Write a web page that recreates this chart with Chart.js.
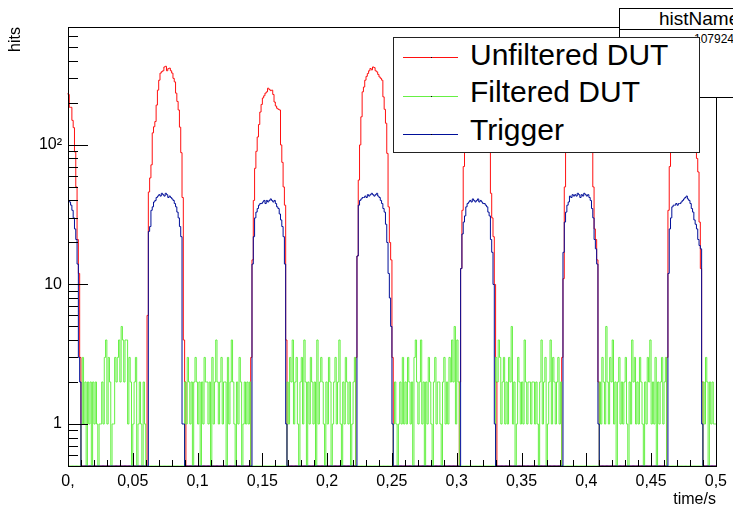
<!DOCTYPE html>
<html>
<head>
<meta charset="utf-8">
<script src="https://cdn.jsdelivr.net/npm/chart.js@4.4.1/dist/chart.umd.min.js"></script>
<style>
  body { margin: 0; background: #fff; }
  #wrap { position: relative; width: 733px; height: 505px; overflow: hidden; font-family: "Liberation Sans", Arial, sans-serif; }
  #stats { position: absolute; left: 619px; top: 8px; width: 150px; height: 88px; border: 1px solid #000; background: #fff; }
  #stats .title { position: absolute; left: 0; top: 0; width: 100%; height: 20px; border-bottom: 1px solid #000; }
  #stats .title span { position: absolute; left: 39px; top: 0px; font-size: 19px; line-height: 19px; }
  #stats .line { position: absolute; left: 74px; top: 24px; font-size: 12px; line-height: 12px; }
  #legend { position: absolute; left: 393px; top: 37px; width: 305px; height: 114px; border: 1px solid #222; background: #fff; }
  #legend .sample { position: absolute; left: 9px; width: 55px; height: 1px; }
  #legend .dot { position: absolute; left: 28px; top: 0; width: 1px; height: 1px; background: #000; }
  #legend .label { position: absolute; left: 76px; font-size: 30px; line-height: 30px; white-space: nowrap; }
</style>
</head>
<body>
<div id="wrap">
  <canvas id="myChart" width="733" height="505"></canvas>
  <div id="stats">
    <div class="title"><span>histName</span></div>
    <div class="line">107924</div>
  </div>
  <div id="legend"></div>
</div>
<script>
// bin width of the histograms in seconds, 500 bins from 0 to 0.5
const binWidth = 0.001;
// bottom of the log axis, empty bins are drawn there like ROOT does
const yMin = 0.5;
const yMax = 700;

const xTickValues = [0, 0.05, 0.1, 0.15, 0.2, 0.25, 0.3, 0.35, 0.4, 0.45, 0.5];
const xTickLabels = ["0,", "0,05", "0,1", "0,15", "0,2", "0,25", "0,3", "0,35", "0,4", "0,45", "0,5"];
const yTickValues = [1, 10, 100];
const yTickLabels = ["1", "10", "10\u00b2"];

const seriesNames = ["Unfiltered DUT", "Filtered DUT", "Trigger"];
const seriesColors = ["#ff1010", "#66f044", "#000f99"];

// hits per bin, 20 bins per row
const unfiltered = [
  235,230,186,186,150,133,89,50,21,12, 3,0,0,0,0,0,0,0,0,0,
  0,0,0,0,0,0,0,0,0,0, 0,0,0,0,0,0,0,0,0,0,
  0,0,0,0,0,0,0,0,0,0, 0,0,0,0,0,0,0,0,0,0,
  0,0,6,46,58,72,122,135,147,193, 247,291,327,335,340,362,366,340,352,355,
  340,327,300,283,235,205,178,134,88,42, 4,2,0,0,0,0,0,0,0,0,
  0,0,0,0,0,0,0,0,0,0, 0,0,0,0,0,0,0,0,0,0,
  0,0,0,0,0,0,0,0,0,0, 0,0,0,0,0,0,0,0,0,0,
  0,0,3,15,40,68,90,114,140,172, 195,217,225,235,240,255,250,245,247,230,
  203,190,183,180,178,100,75,50,37,4, 0,0,0,0,0,0,0,0,0,0,
  0,0,0,0,0,0,0,0,0,0, 0,0,0,0,0,0,0,0,0,0,
  0,0,0,0,0,0,0,0,0,0, 0,0,0,0,0,0,0,0,0,0,
  0,0,0,3,16,56,100,159,240,260, 291,310,325,340,353,345,362,358,340,334,
  320,307,300,291,221,180,143,87,36,20, 15,3,0,0,0,0,0,0,0,0,
  0,0,0,0,0,0,0,0,0,0, 0,0,0,0,0,0,0,0,0,0,
  0,0,0,0,0,0,0,0,0,0, 0,0,0,0,0,0,0,0,0,0,
  0,0,0,2,13,34,70,110,160,210, 250,280,300,310,325,320,330,318,325,310,
  300,290,270,240,200,150,100,45,30,22, 10,2,0,0,0,0,0,0,0,0,
  0,0,0,0,0,0,0,0,0,0, 0,0,0,0,0,0,0,0,0,0,
  0,0,0,0,0,0,0,0,0,0, 0,0,0,0,0,0,0,0,0,0,
  0,0,3,11,50,95,140,190,230,260, 285,300,310,305,315,300,310,295,290,280,
  270,250,215,180,140,95,50,25,21,15, 2,0,0,0,0,0,0,0,0,0,
  0,0,0,0,0,0,0,0,0,0, 0,0,0,0,0,0,0,0,0,0,
  0,0,0,0,0,0,0,0,0,0, 0,0,0,0,0,0,0,0,0,0,
  0,0,0,3,34,70,110,150,190,220, 250,270,285,290,300,295,305,290,280,270,
  255,230,200,170,130,100,80,64,28,13, 2,0,0,0,0,0,0,0,0,0
];

const filtered = [
  0,0,0,0,0,0,0,0,0,0, 0,1,3,1,2,0,2,1,2,0,
  2,1,2,1,0,1,1,2,1,3, 4,1,3,2,0,1,1,3,2,3,
  4,2,5,4,2,4,4,1,3,2, 0,1,2,3,0,1,2,1,0,2,
  1,0,0,0,0,0,0,0,0,0, 0,0,0,0,0,0,0,0,0,0,
  0,0,0,0,0,0,0,0,0,0, 0,2,1,3,2,1,2,0,2,3,
  2,1,2,0,2,1,3,2,2,1, 2,0,3,1,2,4,2,1,2,3,
  1,2,2,0,3,1,2,4,2,1, 0,2,1,3,2,0,1,2,1,2,
  1,2,0,0,0,0,0,0,0,0, 0,0,0,0,0,0,0,0,0,0,
  0,0,0,0,0,0,0,0,0,0, 2,1,3,2,4,1,2,3,1,0,
  2,3,1,4,2,0,2,1,3,2, 1,2,0,4,1,2,3,2,1,0,
  2,1,3,2,0,1,2,3,1,2, 4,1,0,2,1,3,2,1,2,0,
  1,2,3,0,0,0,0,0,0,0, 0,0,0,0,0,0,0,0,0,0,
  0,0,0,0,0,0,0,0,0,0, 0,0,1,2,1,0,1,2,1,3,
  1,2,1,3,2,1,2,0,3,4, 2,1,2,4,1,2,0,2,1,3,
  2,1,0,2,3,1,2,2,1,0, 2,3,1,2,1,3,2,4,2,5,
  1,4,2,0,0,0,0,0,0,0, 0,0,0,0,0,0,0,0,0,0,
  0,0,0,0,0,0,0,0,0,0, 0,3,2,4,3,1,2,3,1,2,
  1,3,2,5,1,2,0,1,3,2, 1,2,1,4,2,1,2,2,1,2,
  2,1,2,1,0,2,4,1,2,3, 0,1,2,4,1,3,2,1,2,3,
  1,2,0,0,0,0,0,0,0,0, 0,0,0,0,0,0,0,0,0,0,
  0,0,0,0,0,0,0,0,0,0, 0,2,1,3,2,1,5,2,1,3,
  2,4,1,2,0,2,3,1,2,1, 2,3,1,0,2,1,4,2,3,1,
  2,1,3,2,1,0,2,1,3,2, 4,1,2,1,3,0,2,1,2,3,
  1,2,3,0,0,0,0,0,0,0, 0,0,0,0,0,0,0,0,0,0,
  0,0,0,0,0,0,0,0,0,0, 0,2,1,3,2,0,2,1,2,1
];

const trigger = [
  40,40,39,37,34,30,25,21,14,3, 2,0,0,0,0,0,0,0,0,0,
  0,0,0,0,0,0,0,0,0,0, 0,0,0,0,0,0,0,0,0,0,
  0,0,0,0,0,0,0,0,0,0, 0,0,0,0,0,0,0,0,0,0,
  0,0,0,24,26,34,36,39,40,42, 43,44,43,45,44,43,45,44,42,43,
  42,41,40,38,36,33,30,26,22,1, 1,0,0,0,0,0,0,0,0,0,
  0,0,0,0,0,0,0,0,0,0, 0,0,0,0,0,0,0,0,0,0,
  0,0,0,0,0,0,0,0,0,0, 0,0,0,0,0,0,0,0,0,0,
  0,0,0,14,22,30,33,35,37,38, 38,39,40,38,40,39,40,41,40,39,
  40,38,36,35,32,29,26,22,14,1, 0,0,0,0,0,0,0,0,0,0,
  0,0,0,0,0,0,0,0,0,0, 0,0,0,0,0,0,0,0,0,0,
  0,0,0,0,0,0,0,0,0,0, 0,0,0,0,0,0,0,0,0,0,
  0,0,0,0,16,37,40,41,42,42, 43,42,44,43,44,45,44,43,44,45,
  43,42,40,38,35,33,27,20,12,8, 5,1,0,0,0,0,0,0,0,0,
  0,0,0,0,0,0,0,0,0,0, 0,0,0,0,0,0,0,0,0,0,
  0,0,0,0,0,0,0,0,0,0, 0,0,0,0,0,0,0,0,0,0,
  0,0,0,0,13,23,28,31,36,38, 39,40,39,41,40,39,40,41,39,40,
  39,38,38,37,36,33,31,21,17,10, 1,0,0,0,0,0,0,0,0,0,
  0,0,0,0,0,0,0,0,0,0, 0,0,0,0,0,0,0,0,0,0,
  0,0,0,0,0,0,0,0,0,0, 0,0,0,0,0,0,0,0,0,0,
  0,0,0,17,28,33,37,39,43,42, 44,43,44,43,45,44,42,44,43,45,
  44,43,44,42,40,35,30,21,18,14, 1,0,0,0,0,0,0,0,0,0,
  0,0,0,0,0,0,0,0,0,0, 0,0,0,0,0,0,0,0,0,0,
  0,0,0,0,0,0,0,0,0,0, 0,0,0,0,0,0,0,0,0,0,
  0,0,0,0,12,25,30,36,37,37, 38,37,38,38,39,40,41,42,43,41,
  40,38,35,33,29,27,25,21,19,18, 1,0,0,0,0,0,0,0,0,0
];

// histogram bins -> step points (left edge of every bin, plus the last right edge)
// a log axis cannot show 0, so empty bins sit on the axis floor
function toSteps(values) {
  const pts = values.map((v, i) => ({ x: i * binWidth, y: v > 0 ? v : yMin }));
  pts.push({ x: values.length * binWidth, y: pts[pts.length - 1].y });
  return pts;
}

// ROOT style frame with ticks pointing inside
const rootFrame = {
  id: "rootFrame",
  afterDatasetsDraw(chart) {
    const { ctx, chartArea: a, scales } = chart;
    const x = scales.x, y = scales.y;
    ctx.save();
    ctx.strokeStyle = "#000";
    ctx.lineWidth = 1;
    ctx.beginPath();
    // y axis ticks
    yTickValues.forEach((v) => {
      const py = Math.round(y.getPixelForValue(v)) + 0.5;
      ctx.moveTo(a.left, py);
      ctx.lineTo(a.left + 20, py);
    });
    for (let d = 0.1; d < 1000; d *= 10) {
      for (let m = 2; m <= 9; m++) {
        const v = m * d;
        if (v < y.min || v > y.max) continue;
        const py = Math.round(y.getPixelForValue(v)) + 0.5;
        ctx.moveTo(a.left, py);
        ctx.lineTo(a.left + 10, py);
      }
    }
    // x axis ticks
    for (let i = 0; i <= 50; i++) {
      const px = Math.round(x.getPixelForValue(i / 100)) + 0.5;
      ctx.moveTo(px, a.bottom);
      ctx.lineTo(px, a.bottom - (i % 5 === 0 ? 13 : 6));
    }
    ctx.stroke();
    ctx.strokeRect(Math.round(a.left) + 0.5, Math.round(a.top) + 0.5,
      Math.round(a.right - a.left), Math.round(a.bottom - a.top));
    ctx.restore();
  }
};

function showChart() {
  Chart.defaults.font.family = '"Liberation Sans", Arial, sans-serif';
  Chart.defaults.color = "#000";
  const datasets = [unfiltered, filtered, trigger].map((values, k) => ({
    label: seriesNames[k],
    data: toSteps(values),
    borderColor: seriesColors[k],
    backgroundColor: seriesColors[k],
    borderWidth: 1,
    pointRadius: 0,
    stepped: "after",
    fill: false,
    clip: false,
    order: 3 - k,
  }));

  const config = {
    type: "line",
    data: { datasets: datasets },
    options: {
      responsive: false,
      animation: false,
      devicePixelRatio: 1,
      layout: { padding: { top: 27, right: 17, left: 0, bottom: 0 } },
      plugins: { legend: { display: false }, tooltip: { enabled: false } },
      scales: {
        x: {
          type: "linear",
          min: 0,
          max: 0.5,
          afterFit: (s) => { s.height = 39; },
          afterBuildTicks: (s) => { s.ticks = xTickValues.map((v) => ({ value: v })); },
          grid: { display: false, drawTicks: false },
          border: { display: false },
          ticks: {
            autoSkip: false,
            maxRotation: 0,
            padding: 6,
            font: { size: 16 },
            callback: (v, i) => xTickLabels[i],
          },
          title: { display: true, text: "time/s", align: "end", font: { size: 16 }, padding: { top: 0, bottom: -4 } },
        },
        y: {
          type: "logarithmic",
          min: yMin,
          max: yMax,
          afterFit: (s) => { s.width = 68; },
          afterBuildTicks: (s) => { s.ticks = yTickValues.map((v) => ({ value: v })); },
          grid: { display: false, drawTicks: false },
          border: { display: false },
          ticks: {
            padding: 6,
            font: { size: 16 },
            callback: (v, i) => yTickLabels[i],
          },
          title: { display: true, text: "hits", align: "end", font: { size: 16 }, padding: { top: 6, bottom: 0 } },
        },
      },
    },
    plugins: [rootFrame],
  };
  new Chart(document.getElementById("myChart"), config);
}

function buildLegend() {
  const legend = document.getElementById("legend");
  const lineTops = [19, 58, 96];
  const textTops = [2, 39, 77];
  seriesNames.forEach((name, k) => {
    const sample = document.createElement("div");
    sample.className = "sample";
    sample.style.top = lineTops[k] + "px";
    sample.style.background = seriesColors[k];
    const dot = document.createElement("div");
    dot.className = "dot";
    sample.appendChild(dot);
    legend.appendChild(sample);
    const label = document.createElement("div");
    label.className = "label";
    label.style.top = textTops[k] + "px";
    label.textContent = name;
    legend.appendChild(label);
  });
}

showChart();
buildLegend();
</script>
</body>
</html>
